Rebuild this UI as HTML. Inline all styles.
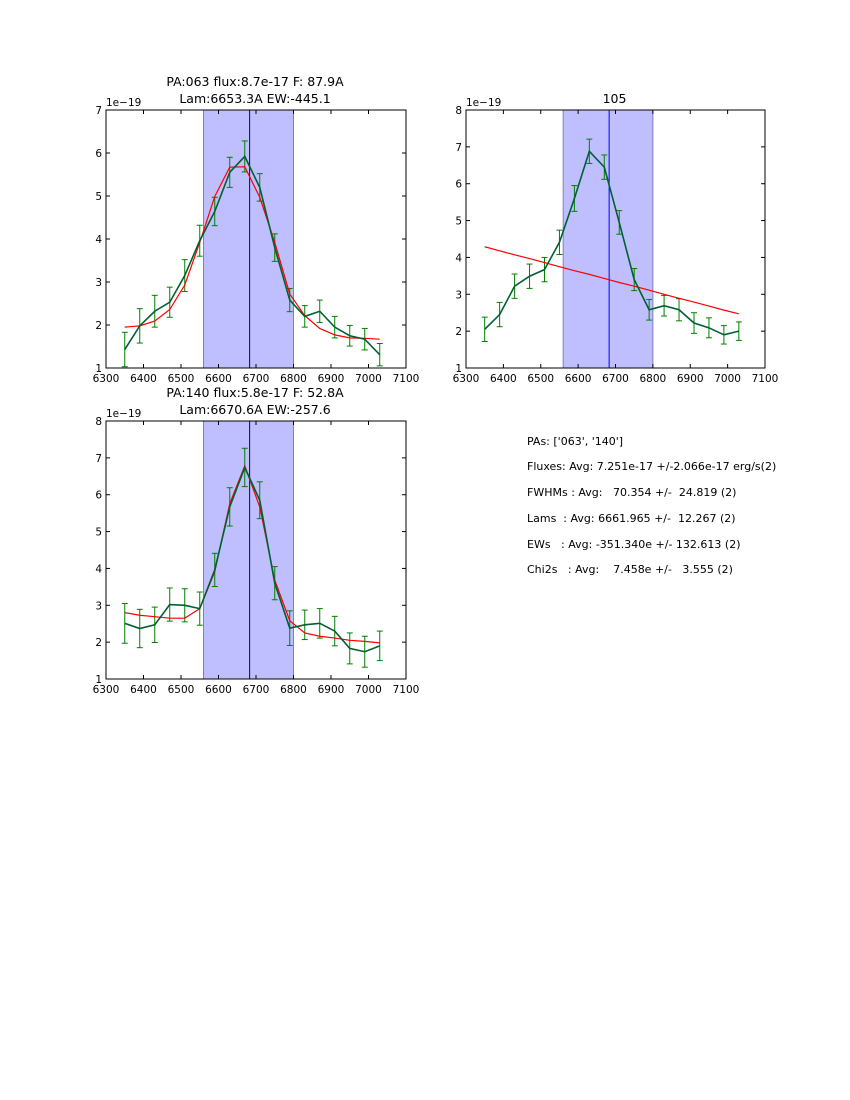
<!DOCTYPE html>
<html><head><meta charset="utf-8">
<style>
html,body{margin:0;padding:0;background:#fff;}
svg{display:block;font-family:"DejaVu Sans","Liberation Sans",sans-serif;}
</style></head>
<body>
<svg id="fig" width="850" height="1100" viewBox="0 0 850 1100" xmlns="http://www.w3.org/2000/svg">
<rect width="850" height="1100" fill="#fff"/>
<g font-size="11" fill="#000">
<text x="527" y="445">PAs: ['063', '140']</text>
<text x="527" y="470">Fluxes: Avg: 7.251e-17 +/-2.066e-17 erg/s(2)</text>
<text x="527" y="496" xml:space="preserve">FWHMs : Avg:   70.354 +/-  24.819 (2)</text>
<text x="527" y="522" xml:space="preserve">Lams  : Avg: 6661.965 +/-  12.267 (2)</text>
<text x="527" y="548" xml:space="preserve">EWs   : Avg: -351.340e +/- 132.613 (2)</text>
<text x="527" y="573" xml:space="preserve">Chi2s   : Avg:    7.458e +/-   3.555 (2)</text>
</g>
</svg>
<script>
const wavelengths = [6350,6390,6430,6470,6510,6550,6590,6630,6670,6710,6750,6790,6830,6870,6910,6950,6990,7030];
const xTicks = [6300,6400,6500,6600,6700,6800,6900,7000,7100];
const p1Flux = [1.43,1.98,2.32,2.53,3.15,3.96,4.64,5.55,5.92,5.2,3.8,2.58,2.2,2.32,1.95,1.75,1.67,1.31];
const p1Err = [0.4,0.4,0.37,0.35,0.37,0.36,0.33,0.35,0.36,0.32,0.32,0.27,0.25,0.26,0.25,0.24,0.25,0.26];
const p1Fit = [1.95,1.98,2.09,2.36,2.93,3.92,4.99,5.67,5.68,4.97,3.92,2.72,2.22,1.92,1.77,1.7,1.69,1.67];
const p1YTicks = [1,2,3,4,5,6,7];
const p2Flux = [2.05,2.45,3.22,3.49,3.67,4.41,5.6,6.88,6.45,4.95,3.4,2.58,2.69,2.58,2.22,2.09,1.9,2.0];
const p2Err = [0.33,0.33,0.33,0.33,0.33,0.33,0.35,0.33,0.33,0.32,0.3,0.28,0.28,0.3,0.28,0.27,0.25,0.25];
const p2Fit = [4.29,4.18,4.07,3.97,3.86,3.75,3.64,3.54,3.43,3.32,3.22,3.11,3.0,2.89,2.79,2.68,2.57,2.47];
const p2YTicks = [1,2,3,4,5,6,7,8];
const p3Flux = [2.51,2.37,2.47,3.02,3.0,2.91,3.96,5.67,6.74,5.85,3.6,2.38,2.47,2.51,2.3,1.83,1.74,1.9];
const p3Err = [0.54,0.52,0.48,0.45,0.45,0.45,0.45,0.52,0.52,0.5,0.45,0.47,0.4,0.4,0.4,0.42,0.42,0.4];
const p3Fit = [2.8,2.73,2.69,2.65,2.65,2.91,3.91,5.76,6.78,5.67,3.68,2.58,2.25,2.16,2.11,2.05,2.02,1.98];
const p3YTicks = [1,2,3,4,5,6,7,8];
const spanLo = 6560, spanHi = 6800;

const NS = 'http://www.w3.org/2000/svg';
const svg = document.getElementById('fig');
function mk(tag, attrs, parent){
  const e = document.createElementNS(NS, tag);
  for (const k in attrs) e.setAttribute(k, attrs[k]);
  (parent||svg).appendChild(e);
  return e;
}
function panel(name, L, T, W, H, yMin, yMax, yTicks, flux, err, fit, lineLam, lineColor, titles){
  const g = mk('g', {});
  
  
  const xs = v => L + (v - 6300) / 800 * W;
  const ys = v => T + H - (v - yMin) / (yMax - yMin) * H;
  const sp = mk('rect', {x: xs(spanLo), y: T, width: xs(spanHi) - xs(spanLo), height: H, fill: '#bfbfff', stroke: '#7f7fbf', 'stroke-width': 1}, g);
  
  
  const vl = mk('line', {x1: xs(lineLam), x2: xs(lineLam), y1: T, y2: T + H, stroke: lineColor, 'stroke-width': 1}, g);
  
  
  const eb = mk('g', {stroke: '#008000', 'stroke-width': 1}, g);
  
  
  wavelengths.forEach((w, i) => {
    const x = xs(w), y1 = ys(flux[i] - err[i]), y2 = ys(flux[i] + err[i]);
    mk('line', {x1: x, x2: x, y1: y1, y2: y2}, eb);
    mk('line', {x1: x - 3, x2: x + 3, y1: y1, y2: y1}, eb);
    mk('line', {x1: x - 3, x2: x + 3, y1: y2, y2: y2}, eb);
  });
  const fl = mk('polyline', {points: wavelengths.map((w, i) => xs(w) + ',' + ys(fit[i])).join(' '), fill: 'none', stroke: '#ff0000', 'stroke-width': 1.2}, g);
  
  
  const dl = mk('polyline', {points: wavelengths.map((w, i) => xs(w) + ',' + ys(flux[i])).join(' '), fill: 'none', stroke: '#006030', 'stroke-width': 1.6}, g);
  
  
  mk('rect', {x: L, y: T, width: W, height: H, fill: 'none', stroke: '#000', 'stroke-width': 1}, g);
  const ax = mk('g', {'font-size': 11, fill: '#000'}, g);
  
  
  xTicks.forEach(t => {
    const x = xs(t);
    mk('line', {x1: x, x2: x, y1: T + H, y2: T + H - 4, stroke: '#000'}, ax);
    mk('line', {x1: x, x2: x, y1: T, y2: T + 4, stroke: '#000'}, ax);
    const tx = mk('text', {x: x, y: T + H + 14, 'text-anchor': 'middle', 'font-size': 10.5}, ax);
    tx.textContent = t;
  });
  yTicks.forEach(t => {
    const y = ys(t);
    mk('line', {x1: L, x2: L + 4, y1: y, y2: y, stroke: '#000'}, ax);
    mk('line', {x1: L + W, x2: L + W - 4, y1: y, y2: y, stroke: '#000'}, ax);
    const tx = mk('text', {x: L - 4, y: y + 4, 'text-anchor': 'end', 'font-size': 10.5}, ax);
    tx.textContent = t;
  });
  const off = mk('text', {x: L, y: T - 4, 'font-size': 10.5}, ax);
  off.textContent = '1e\u221219';
  titles.forEach((s, i) => {
    const tt = mk('text', {x: L + W / 2 - 1, y: T - 7 - (titles.length - 1 - i) * 17, 'text-anchor': 'middle', 'font-size': 12.5}, g);
    
    
    tt.textContent = s;
  });
}
panel('panel-pa063', 106, 110, 300, 258, 1, 7, p1YTicks, p1Flux, p1Err, p1Fit, 6683, '#000080', ['PA:063 flux:8.7e-17 F: 87.9A', 'Lam:6653.3A EW:-445.1']);
panel('panel-pa105', 466, 110, 299, 258, 1, 8, p2YTicks, p2Flux, p2Err, p2Fit, 6683, '#0000ff', ['105']);
panel('panel-pa140', 106, 421, 300, 258, 1, 8, p3YTicks, p3Flux, p3Err, p3Fit, 6683, '#000080', ['PA:140 flux:5.8e-17 F: 52.8A', 'Lam:6670.6A EW:-257.6']);
</script>
</body></html>
